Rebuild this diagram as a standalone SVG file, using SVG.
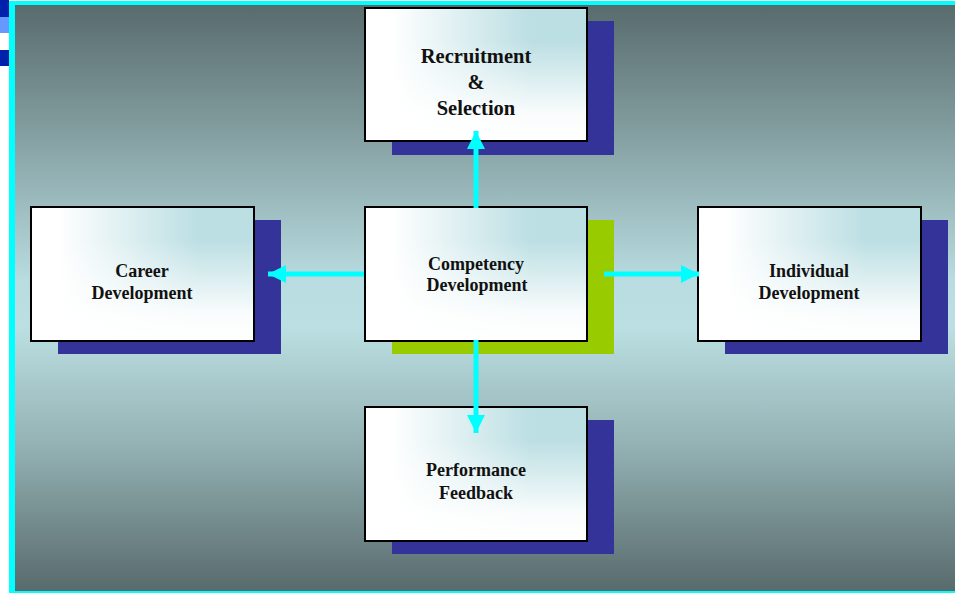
<svg xmlns="http://www.w3.org/2000/svg" width="955" height="593" viewBox="0 0 955 593">
<defs>
<linearGradient id="bg" x1="0" y1="0" x2="0" y2="1">
<stop offset="0" stop-color="#586B6D"/>
<stop offset="0.25" stop-color="#8AA6A8"/>
<stop offset="0.47" stop-color="#B8DCE0"/>
<stop offset="0.55" stop-color="#BBDFE2"/>
<stop offset="0.75" stop-color="#94B2B4"/>
<stop offset="1" stop-color="#586A6C"/>
</linearGradient>
<linearGradient id="boxh" x1="0" y1="0" x2="1" y2="0">
<stop offset="0.12" stop-color="#FFFFFF"/>
<stop offset="0.75" stop-color="#BCDFE3"/>
<stop offset="1" stop-color="#BCDFE3"/>
</linearGradient>
<linearGradient id="boxv" x1="0" y1="0" x2="0" y2="1">
<stop offset="0.25" stop-color="#FFFFFF" stop-opacity="0"/>
<stop offset="0.8" stop-color="#FFFFFF" stop-opacity="0.92"/>
<stop offset="1" stop-color="#FFFFFF" stop-opacity="1"/>
</linearGradient>
<marker id="ah" viewBox="0 0 10 10" refX="10" refY="5" markerWidth="3.6" markerHeight="3.6" markerUnits="strokeWidth" orient="auto">
<path d="M0,0 L10,5 L0,10 Z" fill="#00FFFF"/>
</marker>
</defs>
<style>
.shadow{fill:#333399}
.shadowg{fill:#99CC00}
.boxa{fill:url(#boxh)}
.boxb{fill:url(#boxv)}
.box{fill:none;stroke:#000;stroke-width:2}
.lbl{font-family:"Liberation Serif","Times New Roman",serif;font-weight:bold;font-size:18px;fill:#111;text-anchor:middle}
.big{font-size:20.5px}
.conn{stroke:#00FFFF;stroke-width:5;fill:none}
</style>
<rect x="0" y="0" width="955" height="593" fill="#FFFFFF"/>
<rect x="0" y="0" width="9" height="17" fill="#0022AA"/>
<rect x="0" y="17" width="9" height="16" fill="#6699FF"/>
<rect x="0" y="50" width="9" height="16" fill="#0022AA"/>
<rect x="9" y="1" width="950" height="593" fill="#00FFFF"/>
<rect x="15" y="5" width="945" height="586" fill="url(#bg)"/>

<g id="recruitment">
<rect class="shadow" x="392" y="21" width="222" height="134"/>
<rect class="boxa" x="365" y="8" width="222" height="133"/>
<rect class="boxb" x="365" y="8" width="222" height="133"/>
<rect class="box" x="365" y="8" width="222" height="133"/>
<text class="lbl big" x="476" y="63">Recruitment</text>
<text class="lbl big" x="476" y="89">&amp;</text>
<text class="lbl big" x="476" y="115">Selection</text>
</g>
<g id="competency">
<rect class="shadowg" x="392" y="220" width="222" height="134"/>
<rect class="boxa" x="365" y="207" width="222" height="134"/>
<rect class="boxb" x="365" y="207" width="222" height="134"/>
<rect class="box" x="365" y="207" width="222" height="134"/>
<text class="lbl" x="476" y="270">Competency</text>
<text class="lbl" x="477" y="291">Development</text>
</g>
<g id="career">
<rect class="shadow" x="58" y="220" width="223" height="134"/>
<rect class="boxa" x="31" y="207" width="223" height="134"/>
<rect class="boxb" x="31" y="207" width="223" height="134"/>
<rect class="box" x="31" y="207" width="223" height="134"/>
<text class="lbl" x="142" y="277">Career</text>
<text class="lbl" x="142" y="299">Development</text>
</g>
<g id="individual">
<rect class="shadow" x="725" y="220" width="223" height="134"/>
<rect class="boxa" x="698" y="207" width="223" height="134"/>
<rect class="boxb" x="698" y="207" width="223" height="134"/>
<rect class="box" x="698" y="207" width="223" height="134"/>
<text class="lbl" x="809" y="277">Individual</text>
<text class="lbl" x="809" y="299">Development</text>
</g>
<g id="performance">
<rect class="shadow" x="392" y="420" width="222" height="134"/>
<rect class="boxa" x="365" y="407" width="222" height="134"/>
<rect class="boxb" x="365" y="407" width="222" height="134"/>
<rect class="box" x="365" y="407" width="222" height="134"/>
<text class="lbl" x="476" y="476">Performance</text>
<text class="lbl" x="476" y="499">Feedback</text>
</g>

<g id="connectors">
<line class="conn" x1="476" y1="208" x2="476" y2="131" marker-end="url(#ah)"/>
<line class="conn" x1="476" y1="340" x2="476" y2="433" marker-end="url(#ah)"/>
<line class="conn" x1="364" y1="274" x2="268" y2="274" marker-end="url(#ah)"/>
<line class="conn" x1="604" y1="274" x2="699" y2="274" marker-end="url(#ah)"/>
</g>
</svg>
